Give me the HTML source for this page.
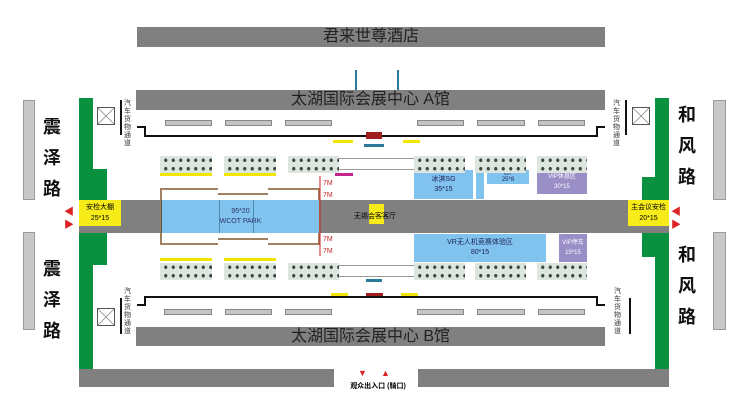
<!DOCTYPE html>
<html><head><meta charset="utf-8"><style>
*{margin:0;padding:0;box-sizing:border-box}
body{width:749px;height:416px;background:#fff;position:relative;overflow:hidden;font-family:"Liberation Sans","Noto Sans CJK SC",sans-serif}
div{position:absolute}
.g{background:#808080}
.lg{background:#c8c8c8;border:1px solid #9a9a9a}
.gr{background:#0a9140}
.bar{background:#c4c4c4;border:1px solid #888;height:6px}
.booth{background:#dde5df;background-image:radial-gradient(#3a4a40 1.4px,transparent 1.8px);background-size:7.5px 8.5px;background-position:2px 0px;height:17px}
.yl{background:#f2e600;height:3px}
.blue{background:#7fc3ee;color:#225;font-size:7px;text-align:center;display:flex;align-items:center;justify-content:center;flex-direction:column;line-height:10px}
.pur{background:#9a8ec7;color:#fff;font-size:7px;text-align:center;display:flex;align-items:center;justify-content:center;flex-direction:column;line-height:10px}
.road{font-weight:bold;font-size:18px;width:30px;text-align:center;line-height:31px;color:#111}
.xb{width:18px;height:18px;border:1px solid #555;background:linear-gradient(45deg,transparent 48%,#777 49%,#777 51%,transparent 52%),linear-gradient(-45deg,transparent 48%,#777 49%,#777 51%,transparent 52%)}
.vt{font-size:7px;width:8px;line-height:8px;color:#333}
.hall{color:#222;font-size:16px;text-align:center;line-height:20px}
.m7{color:#c22;font-size:7px}
</style></head><body>
<div class="g hall" style="left:137px;top:27px;width:468px;height:20px">君来世尊酒店</div>
<div style="left:355px;top:70px;width:2px;height:20px;background:#2a7a9a"></div>
<div style="left:397px;top:70px;width:2px;height:20px;background:#2a7a9a"></div>
<div class="g hall" style="left:136px;top:90px;width:469px;height:20px">太湖国际会展中心 A馆</div>
<div class="g hall" style="left:136px;top:327px;width:469px;height:19px;line-height:19px">太湖国际会展中心 B馆</div>

<div class="lg" style="left:23px;top:100px;width:12px;height:100px"></div>
<div class="lg" style="left:23px;top:232px;width:12px;height:98px"></div>
<div class="lg" style="left:713px;top:100px;width:13px;height:100px"></div>
<div class="lg" style="left:713px;top:232px;width:13px;height:98px"></div>
<div class="road" style="left:37px;top:112px">震<br>泽<br>路</div>
<div class="road" style="left:37px;top:254px">震<br>泽<br>路</div>
<div class="road" style="left:672px;top:100px">和<br>风<br>路</div>
<div class="road" style="left:672px;top:240px">和<br>风<br>路</div>

<div class="gr" style="left:79px;top:98px;width:14px;height:272px"></div>
<div class="gr" style="left:79px;top:169px;width:28px;height:96px"></div>
<div class="gr" style="left:655px;top:98px;width:14px;height:272px"></div>
<div class="gr" style="left:642px;top:177px;width:27px;height:80px"></div>
<div class="g" style="left:79px;top:369px;width:255px;height:18px"></div>
<div class="g" style="left:418px;top:369px;width:251px;height:18px"></div>
<div style="left:338px;top:381px;width:80px;font-size:7px;font-weight:bold;text-align:center">观众出入口 (騎口)</div>
<div style="left:358px;top:368px;color:#d22;font-size:9px">▼</div>
<div style="left:381px;top:368px;color:#d22;font-size:9px">▲</div>

<div class="g" style="left:79px;top:200px;width:590px;height:33px"></div>
<div style="left:160px;top:188px;width:160px;height:57px;border:2px solid #a08060;background:#fff"></div>
<div style="left:218px;top:188px;width:50px;height:7px;background:#fff;border-bottom:2px solid #a08060"></div>
<div style="left:218px;top:238px;width:50px;height:7px;background:#fff;border-top:2px solid #a08060"></div>
<div class="blue" style="left:161px;top:200px;width:158px;height:33px;border-left:1px solid #555"><span style="color:#336">95*20<br>WCOT PARK</span></div>
<div style="left:219px;top:200px;width:1px;height:33px;background:#4a8ab0"></div>
<div style="left:253px;top:200px;width:1px;height:33px;background:#4a8ab0"></div>
<div style="left:79px;top:200px;width:42px;height:26px;background:#f7ec1a;font-size:7px;text-align:center;line-height:11px;padding-top:2px">安检大棚<br>25*15</div>
<div style="left:628px;top:200px;width:41px;height:26px;background:#f7ec1a;font-size:7px;text-align:center;line-height:11px;padding-top:2px">主会议安检<br>20*15</div>
<div style="left:369px;top:204px;width:15px;height:20px;background:#f7ec1a"></div>
<div style="left:345px;top:211px;width:60px;font-size:7px;text-align:center">无锡会客客厅</div>
<div style="left:64px;top:203px;color:#d22;font-size:10px">◀</div>
<div style="left:64px;top:216px;color:#d22;font-size:10px">▶</div>
<div style="left:671px;top:203px;color:#d22;font-size:10px">◀</div>
<div style="left:671px;top:216px;color:#d22;font-size:10px">▶</div>
<div class="m7" style="left:323px;top:180px">7M</div><div class="m7" style="left:323px;top:192px">7M</div>
<div class="m7" style="left:323px;top:236px">7M</div><div class="m7" style="left:323px;top:248px">7M</div>

<div class="blue" style="left:414px;top:170px;width:59px;height:29px">冰淇SG<br>35*15</div>
<div class="blue" style="left:476px;top:170px;width:8px;height:29px"></div>
<div class="blue" style="left:487px;top:170px;width:42px;height:14px;line-height:6px;font-size:6px">G7<br>25*8</div>
<div class="pur" style="left:537px;top:170px;width:50px;height:24px;font-size:6px">VIP休息区<br>30*15</div>
<div class="blue" style="left:414px;top:234px;width:132px;height:28px">VR无人机竞赛体验区<br>80*15</div>
<div class="pur" style="left:559px;top:234px;width:28px;height:28px;font-size:6px">VIP停车<br>15*15</div>

<div class="booth" style="left:160px;top:156px;width:52px"></div>
<div class="booth" style="left:224px;top:156px;width:52px"></div>
<div class="booth" style="left:288px;top:156px;width:51px"></div>
<div class="booth" style="left:414px;top:156px;width:51px"></div>
<div class="booth" style="left:475px;top:156px;width:51px"></div>
<div class="booth" style="left:537px;top:156px;width:50px"></div>
<div style="left:339px;top:158px;width:75px;height:12px;border-top:1px solid #999;border-bottom:1px solid #999"></div>
<div class="yl" style="left:160px;top:173px;width:52px"></div>
<div class="yl" style="left:224px;top:173px;width:52px"></div>
<div style="left:335px;top:173px;width:18px;height:3px;background:#c3268c"></div>

<div class="booth" style="left:160px;top:263px;width:52px"></div>
<div class="booth" style="left:224px;top:263px;width:52px"></div>
<div class="booth" style="left:288px;top:263px;width:51px"></div>
<div class="booth" style="left:414px;top:263px;width:51px"></div>
<div class="booth" style="left:475px;top:263px;width:51px"></div>
<div class="booth" style="left:537px;top:263px;width:50px"></div>
<div style="left:339px;top:265px;width:75px;height:12px;border-top:1px solid #999;border-bottom:1px solid #999"></div>
<div class="yl" style="left:160px;top:258px;width:52px"></div>
<div class="yl" style="left:224px;top:258px;width:52px"></div>
<div style="left:366px;top:279px;width:16px;height:3px;background:#2a7a9a"></div>

<div class="bar" style="left:165px;top:120px;width:47px"></div>
<div class="bar" style="left:225px;top:120px;width:47px"></div>
<div class="bar" style="left:285px;top:120px;width:47px"></div>
<div class="bar" style="left:417px;top:120px;width:47px"></div>
<div class="bar" style="left:477px;top:120px;width:48px"></div>
<div class="bar" style="left:538px;top:120px;width:47px"></div>
<div class="bar" style="left:164px;top:309px;width:48px"></div>
<div class="bar" style="left:225px;top:309px;width:47px"></div>
<div class="bar" style="left:285px;top:309px;width:47px"></div>
<div class="bar" style="left:417px;top:309px;width:47px"></div>
<div class="bar" style="left:477px;top:309px;width:48px"></div>
<div class="bar" style="left:538px;top:309px;width:47px"></div>

<svg style="position:absolute;left:0;top:0" width="749" height="416">
<polyline points="137,127 145,127 145,136 597,136 597,127 605,127" fill="none" stroke="#111" stroke-width="2"/>
<polyline points="137,305 145,305 145,297 597,297 597,305 605,305" fill="none" stroke="#111" stroke-width="2"/>
<line x1="121" y1="100" x2="121" y2="135" stroke="#111" stroke-width="2"/>
<line x1="626" y1="100" x2="626" y2="135" stroke="#111" stroke-width="2"/>
<line x1="121" y1="298" x2="121" y2="334" stroke="#111" stroke-width="2"/>
<line x1="630" y1="298" x2="630" y2="334" stroke="#111" stroke-width="2"/>
<line x1="320" y1="176" x2="320" y2="256" stroke="#c22" stroke-width="1"/>
</svg>
<div style="left:333px;top:140px;width:20px;height:3px;background:#f2e600"></div>
<div style="left:403px;top:140px;width:17px;height:3px;background:#f2e600"></div>
<div style="left:366px;top:132px;width:16px;height:7px;background:#a02020"></div>
<div style="left:364px;top:144px;width:20px;height:3px;background:#2a7a9a"></div>
<div style="left:331px;top:293px;width:17px;height:3px;background:#f2e600"></div>
<div style="left:401px;top:293px;width:17px;height:3px;background:#f2e600"></div>
<div style="left:366px;top:293px;width:17px;height:3px;background:#a02020"></div>

<div class="xb" style="left:97px;top:107px"></div>
<div class="xb" style="left:632px;top:107px"></div>
<div class="xb" style="left:97px;top:308px"></div>
<div class="vt" style="left:124px;top:100px">汽车货物通道</div>
<div class="vt" style="left:613px;top:100px">汽车货物通道</div>
<div class="vt" style="left:124px;top:288px">汽车货物通道</div>
<div class="vt" style="left:614px;top:288px">汽车货物通道</div>
</body></html>
